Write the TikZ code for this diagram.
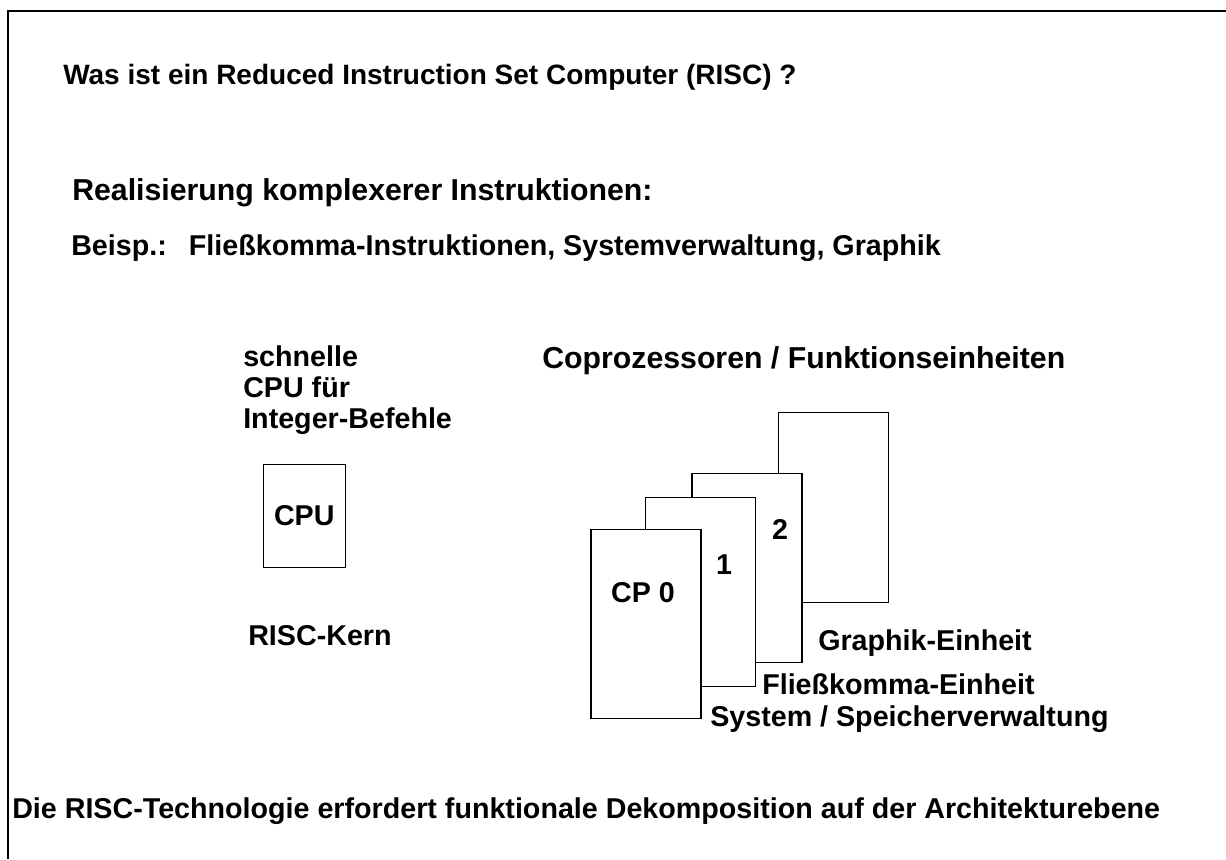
\documentclass[tikz,border=0pt]{standalone}
\usepackage{fontspec}
\setmainfont{Liberation Sans}
\usepackage{tikz}
\usetikzlibrary{positioning}

\begin{document}
\begin{tikzpicture}[
  x=0.75pt, y=-0.75pt,
  every node/.style={font=\fontsize{21.5}{23.5}\selectfont\bfseries, inner sep=0pt},
  txt/.style={anchor=west, align=left},
  big/.style={font=\fontsize{22.7}{24}\selectfont\bfseries},
  card/.style={draw, fill=white, line width=0.8pt, minimum width=82.5pt, minimum height=142pt}
]
  \useasboundingbox (0,0) rectangle (1226,859);
  % frame
  \draw[line width=1.6pt] (8,859) -- (8,11) -- (1226,11);

  % Texts
  \node (title) [txt, font=\fontsize{21}{24}\selectfont\bfseries] at (63,77) {Was ist ein Reduced Instruction Set Computer (RISC) ?};
  \node (real) [txt, big] at (72,193) {Realisierung komplexerer Instruktionen:};
  \node (beisp) [txt] at (71,248) {Beisp.:\hspace{0.77em}Fließkomma-Instruktionen, Systemverwaltung, Graphik};
  \node (fast) [txt] at (243,390) {schnelle\\CPU für\\Integer-Befehle};
  \node (copro) [txt, big] at (542,361) {Coprozessoren / Funktionseinheiten};

  % RISC core
  \node (cpu) [draw, line width=0.8pt, minimum width=61.5pt, minimum height=77pt] at (304.3,515.8) {CPU};
  \node (kern) [txt] at (248,636) {RISC-Kern};

  % Coprocessor cards, back to front
  \node (cp3) [card] at (833.4,507.5) {};
  \node (cp2) [card] at (747,568.2) {};
  \node (cp1) [card] at (700.7,591.8) {};
  \node (cp0) [card] at (646,624.2) {};
  \node (cpzero) at (643,593) {CP 0};
  \node (one) at (724,565) {1};
  \node (two) at (780,529) {2};

  \node (graph) [txt] at (818,643) {Graphik-Einheit};
  \node (fpu) [txt] at (762,684) {Fließkomma-Einheit};
  \node (sys) [txt] at (710,719) {System / Speicherverwaltung};

  \node (bottom) [txt] at (12,811) {Die RISC-Technologie erfordert funktionale Dekomposition auf der Architekturebene};
\end{tikzpicture}
\end{document}
